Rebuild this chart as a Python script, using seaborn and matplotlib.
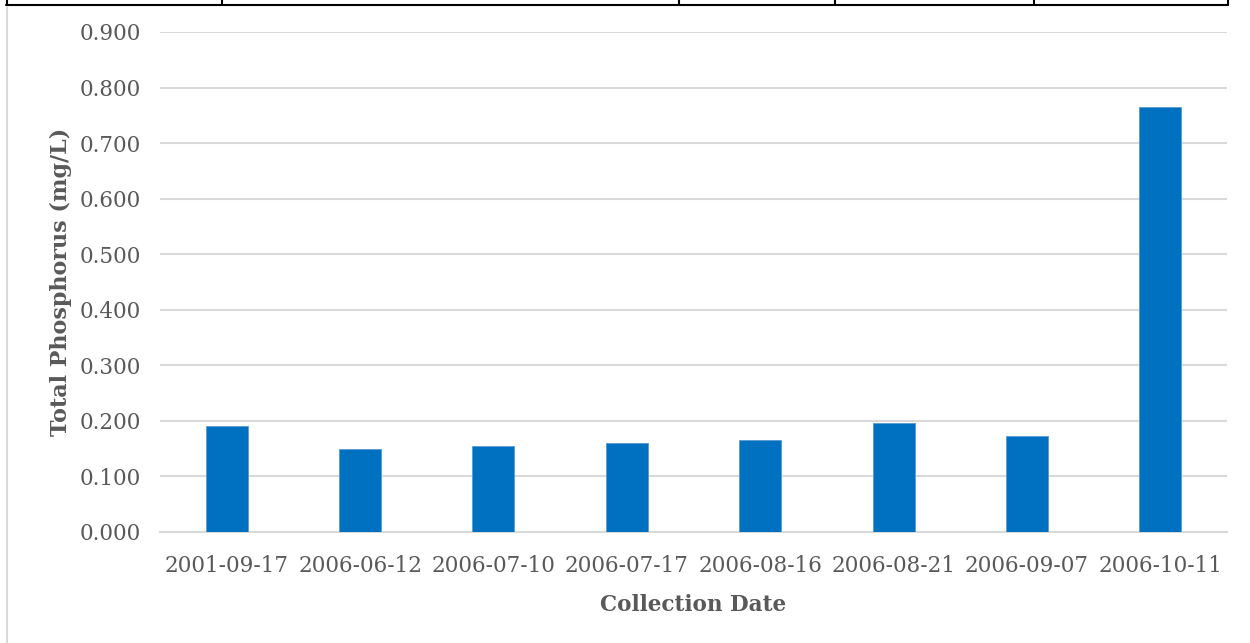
import matplotlib
matplotlib.use("Agg")
import matplotlib.pyplot as plt
from matplotlib.lines import Line2D
import seaborn as sns
import pandas as pd

dates = ["2001-09-17", "2006-06-12", "2006-07-10", "2006-07-17",
         "2006-08-16", "2006-08-21", "2006-09-07", "2006-10-11"]
phosphorus = [0.190, 0.150, 0.154, 0.160, 0.165, 0.196, 0.172, 0.765]
y_ticks = [0.0, 0.1, 0.2, 0.3, 0.4, 0.5, 0.6, 0.7, 0.8, 0.9]

df = pd.DataFrame({"date": dates, "tp": phosphorus})

sns.set_theme(style="white")
plt.rcParams["font.family"] = ["DejaVu Serif"]

W, H = 1250, 643
fig = plt.figure(figsize=(W / 100, H / 100), dpi=100)
ax = fig.add_axes([160 / W, 1 - 532 / H, (1227 - 160) / W, (532 - 32) / H])

sns.barplot(data=df, x="date", y="tp", color="#0070C0", width=0.315,
            saturation=1, ax=ax, edgecolor="#5b9bd5", linewidth=0.6, zorder=3)

text_c = "#595959"
ax.set_ylim(0, 0.9)
ax.set_yticks(y_ticks)
ax.set_yticklabels([f"{v:.3f}" for v in y_ticks])
ax.set_xlim(-0.5, len(dates) - 0.5)
ax.yaxis.grid(True, color="#d9d9d9", linewidth=1.5, zorder=0)
ax.set_axisbelow(True)
for s in ["top", "right", "left"]:
    ax.spines[s].set_visible(False)
ax.spines["bottom"].set_color("#d9d9d9")
ax.spines["bottom"].set_linewidth(1.5)
ax.tick_params(axis="both", length=0, colors=text_c, labelsize=15.5)
ax.tick_params(axis="y", pad=14)
ax.tick_params(axis="x", pad=16.5)

ax.set_xlabel("Collection Date", fontsize=15.5, fontweight="bold", color=text_c, labelpad=12)
ax.set_ylabel("Total Phosphorus (mg/L)", fontsize=16, fontweight="bold", color=text_c, labelpad=5)

# page frame: table rule along the top edge and left margin line
def px_line(x0, y0, x1, y1, color, lw):
    fig.add_artist(Line2D([x0 / W, x1 / W], [1 - y0 / H, 1 - y1 / H],
                          color=color, linewidth=lw, transform=fig.transFigure))

px_line(6, 5, 1228, 5, "black", 1.5)
for xv in [7, 222, 679, 835, 1034, 1228]:
    px_line(xv, 0, xv, 5, "black", 1.5)
px_line(7, 7, 7, 643, "#d9d9d9", 1.5)

fig.savefig("out.png", dpi=100)
